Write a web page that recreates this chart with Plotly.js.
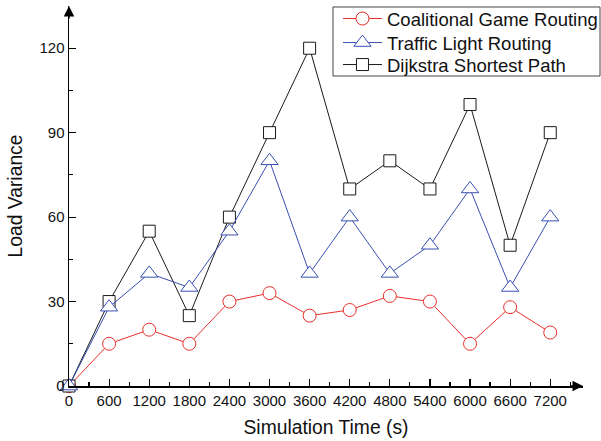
<!DOCTYPE html>
<html>
<head>
<meta charset="utf-8">
<script src="https://cdn.plot.ly/plotly-3.0.1.min.js"></script>
<style>html,body{margin:0;padding:0;background:#fff;}#chart{width:601px;height:441px;}</style>
</head>
<body>
<div id="chart"></div>
<script>
var timeSeconds = [0, 600, 1200, 1800, 2400, 3000, 3600, 4200, 4800, 5400, 6000, 6600, 7200];
var coalitionalGame = [0, 15, 20, 15, 30, 33, 25, 27, 32, 30, 15, 28, 19];
var trafficLight = [0, 28, 40, 35, 55, 80, 40, 60, 40, 50, 70, 35, 60];
var dijkstra = [0, 30, 55, 25, 60, 90, 120, 70, 80, 70, 100, 50, 90];
var yTicks = [0, 30, 60, 90, 120];

var font = 'Liberation Sans, Arial, sans-serif';

var traces = [
  {x: timeSeconds, y: coalitionalGame, name: 'Coalitional Game Routing', legend: 'legend',
   mode: 'lines+markers', cliponaxis: false,
   line: {color: '#e8302a', width: 1},
   marker: {symbol: 'circle', size: 13, color: '#ffffff', line: {color: '#e8302a', width: 1}}},
  {x: timeSeconds, y: dijkstra, name: 'Dijkstra Shortest Path', legend: 'legend3',
   mode: 'lines+markers', cliponaxis: false,
   line: {color: '#1a1a1a', width: 1},
   marker: {symbol: 'square', size: 12, color: '#ffffff', line: {color: '#1a1a1a', width: 1}}},
  {x: timeSeconds, y: trafficLight, name: 'Traffic Light Routing', legend: 'legend2',
   mode: 'lines+markers', cliponaxis: false,
   line: {color: '#3a4fb0', width: 1},
   marker: {symbol: 'triangle-up', size: 15, color: '#ffffff', line: {color: '#3a4fb0', width: 1}}}
];

function legendAt(yc) {
  return {
    x: 0.5233, xanchor: 'left', y: yc, yanchor: 'middle',
    borderwidth: 0, bgcolor: 'rgba(0,0,0,0)',
    font: {family: font, size: 18.5, color: '#111111'},
    itemwidth: 39
  };
}

var layout = {
  width: 601, height: 441,
  margin: {l: 69, r: 18, t: 6, b: 55, autoexpand: false},
  paper_bgcolor: '#ffffff', plot_bgcolor: '#ffffff',
  font: {family: font, color: '#111111', size: 15},
  showlegend: true,
  legend: legendAt(0.9658),
  legend2: legendAt(0.9026),
  legend3: legendAt(0.8447),
  shapes: [
    {type: 'rect', xref: 'paper', yref: 'paper', x0: 0.5136, x1: 1.0331, y0: 0.8158, y1: 0.9974,
     line: {color: '#444444', width: 1}, fillcolor: 'rgba(0,0,0,0)', layer: 'above'}
  ],
  xaxis: {
    range: [0, 7690], tickvals: timeSeconds, ticktext: timeSeconds.map(String),
    showgrid: false, zeroline: false, showline: true, linecolor: '#000', linewidth: 1.5,
    ticks: 'inside', ticklen: 7, tickwidth: 1.2, tickcolor: '#000',
    minor: {dtick: 300, ticks: 'inside', ticklen: 4, tickcolor: '#000', tick0: 0},
    tickfont: {family: font, size: 15, color: '#111'},
    title: {text: 'Simulation Time (s)', font: {family: font, size: 19.3, color: '#111'}, standoff: 13}
  },
  yaxis: {
    range: [0, 135], tickvals: yTicks, ticktext: yTicks.map(String),
    showgrid: false, zeroline: false, showline: true, linecolor: '#000', linewidth: 1.5,
    ticks: 'inside', ticklen: 7, tickwidth: 1.2, tickcolor: '#000',
    minor: {dtick: 15, ticks: 'inside', ticklen: 4, tickcolor: '#000', tick0: 0},
    tickfont: {family: font, size: 15, color: '#111'},
    title: {text: 'Load Variance', font: {family: font, size: 19.3, color: '#111'}, standoff: 11}
  },
  annotations: [
    {xref: 'paper', yref: 'paper', x: 1, y: 0, ax: -14, ay: 0, text: '', showarrow: true,
     arrowhead: 2, arrowsize: 1.4, arrowwidth: 1.5, arrowcolor: '#000', standoff: 0},
    {xref: 'paper', yref: 'paper', x: 0, y: 1, ax: 0, ay: 14, text: '', showarrow: true,
     arrowhead: 2, arrowsize: 1.4, arrowwidth: 1.5, arrowcolor: '#000', standoff: 0}
  ]
};

Plotly.newPlot('chart', traces, layout, {displayModeBar: false, staticPlot: true});
</script>
</body>
</html>
